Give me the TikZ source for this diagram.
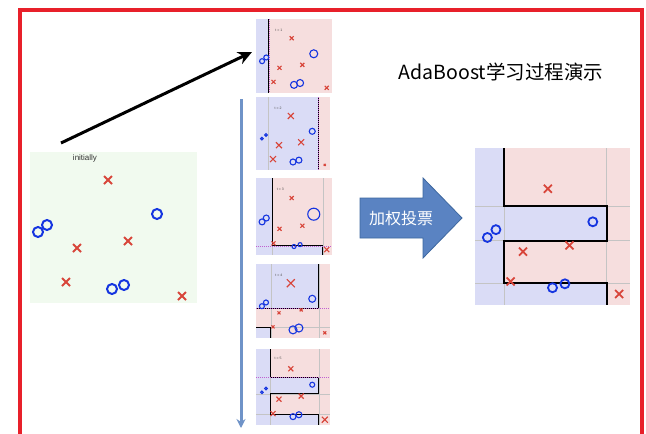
\documentclass[tikz,border=0pt]{standalone}
\usepackage{fontspec}
\setsansfont{Liberation Sans}
\newfontfamily\cjk{Noto Sans CJK SC}
\usetikzlibrary{arrows.meta}

\definecolor{framered}{HTML}{E8202A}
\definecolor{xred}{HTML}{D8453A}
\definecolor{oblue}{HTML}{1535E0}
\definecolor{negpink}{HTML}{F6DEDE}
\definecolor{posblue}{HTML}{DADCF6}
\definecolor{initgreen}{HTML}{F1FAEF}
\definecolor{gridgray}{HTML}{C4C4C4}
\definecolor{cutpurple}{HTML}{C060D0}
\definecolor{votefill}{HTML}{5A83C2}
\definecolor{voteline}{HTML}{3D679F}
\definecolor{flowblue}{HTML}{6F93C8}

\tikzset{
  gridline/.style={gridgray, line width=0.5pt},
  cutline/.style={black, line width=0.9pt},
  newcut/.style={cutpurple, dash pattern=on 1pt off 1pt, line width=0.5pt},
  steplabel/.style={font=\sffamily\fontsize{3.5}{4}\selectfont, text=black!70, inner sep=0pt},
}

% one red cross / one blue ring, size in pt
\newcommand{\drawx}[3][1.1pt]{\draw[xred, line width=#1] (#2) +(-#3pt,-#3pt) -- +(#3pt,#3pt) +(-#3pt,#3pt) -- +(#3pt,-#3pt);}
\newcommand{\drawo}[3][1.1pt]{\draw[oblue, line width=#1] (#2) circle[radius=#3pt];}
% sample positions inside a unit panel
\newcommand{\datapts}{%
  \coordinate (C1) at (0.47,0.26);
  \coordinate (O1) at (0.76,0.47);
  \coordinate (O2) at (0.08,0.57);
  \coordinate (O3) at (0.135,0.52);
  \coordinate (C2) at (0.61,0.62);
  \coordinate (C3) at (0.31,0.66);
  \coordinate (C4) at (0.23,0.85);
  \coordinate (O4) at (0.50,0.89);
  \coordinate (O5) at (0.58,0.865);
  \coordinate (C5) at (0.93,0.93);}
% weights: C1, O1, O2/O3, C2-C4, O4/O5, C5
\newcommand{\drawpts}[6]{%
  \datapts
  \drawx{C1}{#1} \drawo{O1}{#2}
  \drawo{O2}{#3} \drawo{O3}{#3}
  \drawx{C2}{#4} \drawx{C3}{#4} \drawx{C4}{#4}
  \drawo{O4}{#5} \drawo{O5}{#5}
  \drawx{C5}{#6}}

\begin{document}
\begin{tikzpicture}[x=1pt, y=-1pt]
  \useasboundingbox (0,0) rectangle (646,434);
  \clip (0,0) rectangle (646,434);
  \fill[white] (0,0) rectangle (646,434);

  % frame
  \draw[framered, line width=4pt] (20,10) rectangle (642,460);

  % title
  \node[font=\cjk\fontsize{19.5}{22}\selectfont] (title) at (501,72) {AdaBoost学习过程演示};

  % initial samples
  \fill[initgreen] (30,152) rectangle (197,303);
  \node[font=\sffamily\fontsize{8}{9}\selectfont, text=black!80] (initlabel) at (85,158) {initially};
  \drawx[2pt]{108,180}{4}
  \drawo[2pt]{38,232}{5} \drawo[2pt]{47,225}{5}
  \drawo[2pt]{157,214}{5}
  \drawx[2pt]{77,248}{4}
  \drawx[2pt]{128,241}{4}
  \drawx[2pt]{66,282}{4}
  \drawo[2pt]{112,289}{5} \drawo[2pt]{124,285}{5}
  \drawx[2pt]{182,296}{4}

  \coordinate (initTop) at (61,143);
  \coordinate (stepOne) at (252,52);
  \draw[line width=3pt, -{Stealth[length=14pt, width=13pt]}] (initTop) -- (stepOne);

  % round arrow
  \coordinate (flowTop) at (241,99);
  \coordinate (flowEnd) at (241,428);
  \draw[flowblue, line width=3pt, -{Stealth[length=9pt, width=9pt]}] (flowTop) -- (flowEnd);

  % t = 1
  \begin{scope}[shift={(256,19)}, x=76pt, y=-74pt]
    \fill[negpink] (0,0) rectangle (1,1);
    \fill[posblue] (0,0) rectangle (0.17,1);
    \draw[cutline] (0.17,0) -- (0.17,1);
    \draw[newcut] (0.17,0) -- (0.17,1);
    \node[steplabel] (tone) at (0.3,0.15) {t = 1};
    \drawpts{2}{4}{2.5}{2}{3.5}{2}
  \end{scope}

  % t = 2
  \begin{scope}[shift={(256,97)}, x=74pt, y=-73pt]
    \fill[negpink] (0,0) rectangle (1,1);
    \fill[posblue] (0,0) rectangle (0.84,1);
    \draw[gridline] (0.17,0) -- (0.17,1);
    \draw[cutline] (0.84,0) -- (0.84,1);
    \draw[newcut] (0.84,0) -- (0.84,1);
    \node[steplabel] (ttwo) at (0.3,0.15) {t = 2};
    \drawpts{3}{3}{1.3}{3}{3}{1}
  \end{scope}

  % t = 3
  \begin{scope}[shift={(256,178)}, x=76pt, y=-77pt]
    \fill[negpink] (0,0) rectangle (1,1);
    \fill[posblue] (0,0) rectangle (0.21,1);
    \fill[posblue] (0.21,0.88) rectangle (0.88,1);
    \draw[gridline] (0.21,0) -- (0.21,1);
    \draw[gridline] (0.88,0) -- (0.88,1);
    \draw[cutline] (0.21,0) -- (0.21,0.88) -- (0.88,0.88) -- (0.88,1);
    \draw[newcut] (0,0.88) -- (1,0.88);
    \node[steplabel] (tthree) at (0.32,0.15) {t = 3};
    \drawpts{2}{6}{3}{2}{2}{2.5}
  \end{scope}

  % t = 4
  \begin{scope}[shift={(256,264)}, x=74pt, y=-74pt]
    \fill[negpink] (0,0) rectangle (1,1);
    \fill[posblue] (0,0) rectangle (0.85,0.6);
    \fill[posblue] (0,0.86) rectangle (0.2,1);
    \draw[gridline] (0.2,0) -- (0.2,1);
    \draw[gridline] (0.85,0) -- (0.85,1);
    \draw[gridline] (0,0.86) -- (1,0.86);
    \draw[cutline] (0.85,0) -- (0.85,0.6) -- (0,0.6);
    \draw[cutline] (0,0.86) -- (0.2,0.86) -- (0.2,1);
    \draw[newcut] (0,0.6) -- (1,0.6);
    \node[steplabel] (tfour) at (0.31,0.15) {t = 4};
    \drawpts{4}{3.5}{2.5}{1.5}{4}{1.5}
  \end{scope}

  % t = 5
  \begin{scope}[shift={(256,349)}, x=74pt, y=-76pt]
    \fill[negpink] (0,0) rectangle (1,1);
    \fill[posblue] (0,0) rectangle (0.19,1);
    \fill[posblue] (0.19,0.37) rectangle (0.85,0.59);
    \fill[posblue] (0.19,0.86) rectangle (0.85,1);
    \draw[gridline] (0.19,0) -- (0.19,1);
    \draw[gridline] (0.85,0) -- (0.85,1);
    \draw[gridline] (0,0.59) -- (1,0.59);
    \draw[gridline] (0,0.86) -- (1,0.86);
    \draw[cutline] (0.19,0) -- (0.19,0.37) -- (0.85,0.37) -- (0.85,0.59) -- (0.19,0.59)
      -- (0.19,0.86) -- (0.85,0.86) -- (0.85,1);
    \draw[newcut] (0,0.37) -- (1,0.37);
    \node[steplabel] (tfive) at (0.3,0.12) {t = 5};
    \drawpts{2.5}{2.5}{1.3}{2.5}{3}{3}
  \end{scope}

  % weighted vote arrow
  \draw[fill=votefill, draw=voteline, line width=0.8pt]
    (360,198) -- (423,198) -- (423,178) -- (462,218) -- (423,258) -- (423,238) -- (360,238) -- cycle;
  \node[font=\cjk\fontsize{16}{18}\selectfont, text=white] (vote) at (401,218) {加权投票};

  % final classifier
  \begin{scope}[shift={(475,148)}, x=155pt, y=-157pt]
    \fill[negpink] (0,0) rectangle (1,1);
    \fill[posblue] (0,0) rectangle (0.19,1);
    \fill[posblue] (0.19,0.37) rectangle (0.85,0.59);
    \fill[posblue] (0.19,0.86) rectangle (0.85,1);
    \draw[gridline, line width=0.8pt] (0.19,0) -- (0.19,1);
    \draw[gridline, line width=0.8pt] (0.85,0) -- (0.85,1);
    \draw[gridline, line width=0.8pt] (0,0.37) -- (1,0.37);
    \draw[gridline, line width=0.8pt] (0,0.59) -- (1,0.59);
    \draw[gridline, line width=0.8pt] (0,0.86) -- (1,0.86);
    \draw[black, line width=2pt] (0.19,0) -- (0.19,0.37) -- (0.85,0.37) -- (0.85,0.59) -- (0.19,0.59)
      -- (0.19,0.86) -- (0.85,0.86) -- (0.85,1);
    \datapts
    \drawx[1.8pt]{C1}{4} \drawo[1.8pt]{O1}{4.5}
    \drawo[1.8pt]{O2}{4.5} \drawo[1.8pt]{O3}{4.5}
    \drawx[1.8pt]{C2}{4} \drawx[1.8pt]{C3}{4} \drawx[1.8pt]{C4}{4}
    \drawo[1.8pt]{O4}{4.5} \drawo[1.8pt]{O5}{4.5}
    \drawx[1.8pt]{C5}{4}
  \end{scope}
\end{tikzpicture}
\end{document}
